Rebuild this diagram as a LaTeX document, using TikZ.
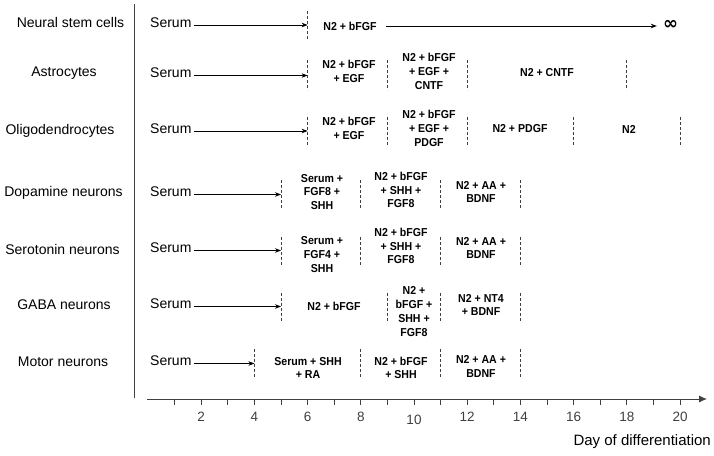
\documentclass[tikz,border=0pt]{standalone}
\usepackage{fontspec}
\setmainfont{Liberation Sans}
\newfontfamily\cf[FakeStretch=0.92]{Liberation Sans}
\newfontfamily\djv{DejaVu Sans}
\usetikzlibrary{arrows.meta}
\definecolor{axgray}{HTML}{404040}
\begin{document}
\begin{tikzpicture}[x=1pt,y=-1pt,
  rowlabel/.style={font=\fontsize{14}{16}\selectfont, inner sep=0},
  serum/.style={font=\fontsize{14}{16}\selectfont, inner sep=0, anchor=west},
  med/.style={font=\cf\bfseries\fontsize{11.5}{13.7}\selectfont, align=center, inner sep=0},
  arr/.style={-{Stealth[length=6pt,width=4.5pt]}, line width=0.8pt},
  sep/.style={axgray, line width=0.7pt, dash pattern=on 3pt off 2pt},
  ticklab/.style={font=\fontsize{13.5}{15}\selectfont, text=axgray, inner sep=0}]
\useasboundingbox (0,0) rectangle (714,455);

% vertical separator
\draw[axgray, line width=0.8pt] (134,4) -- (134,398);

% axis
\coordinate (ax0) at (147,399);
\coordinate (ax1) at (707,399);
\draw[axgray, line width=0.9pt, -{Latex[length=8pt,width=7pt]}] (ax0) -- (ax1);
\foreach \d in {1,...,20} {
  \draw[axgray, line width=0.8pt] ({148+26.6*\d},399) -- ({148+26.6*\d},405);
}
\foreach \d in {2,4,6,8,12,14,16,18,20} {
  \node[ticklab] (t\d) at ({148+26.6*\d},417) {\d};
}
\node[ticklab] (t10) at ({148+26.6*10},420) {10};
\node[inner sep=0, anchor=east, font=\fontsize{15}{17}\selectfont] (daylab) at (711,442) {Day of differentiation};

% ---------- Neural stem cells ----------
\node[rowlabel] (l1) at (70.5,22.5) {Neural stem cells};
\node[serum] (s1) at (150,22.5) {Serum};
\coordinate (d1) at (307.6,25);
\draw[arr] ([xshift=2pt]s1.east |- d1) -- (d1);
\draw[sep] (307.6,11) -- (307.6,40);
\node[med] (n1a) at (350,26) {N2 + bFGF};
\node[inner sep=0, font=\djv\bfseries\fontsize{18}{18}\selectfont] (inf) at (670.5,25) {∞};
\draw[arr] ([xshift=9pt]n1a.east) -- ([xshift=-6pt]inf.west |- n1a.east);

% ---------- Astrocytes ----------
\node[rowlabel] (l2) at (64,73) {Astrocytes};
\node[serum] (s2) at (150,73) {Serum};
\coordinate (d2) at (307.6,75.5);
\draw[arr] ([xshift=2pt]s2.east |- d2) -- (d2);
\foreach \x in {307.6,387.4,467.2,626.8} \draw[sep] (\x,60) -- (\x,90);
\node[med] (n2a) at (349,71.5) {N2 + bFGF\\+ EGF};
\node[med] (n2b) at (429,71.5) {N2 + bFGF\\+ EGF +\\CNTF};
\node[med] (n2c) at (547,73) {N2 + CNTF};

% ---------- Oligodendrocytes ----------
\node[rowlabel] (l3) at (60,131) {Oligodendrocytes};
\node[serum] (s3) at (150,128.5) {Serum};
\coordinate (d3) at (307.6,131);
\draw[arr] ([xshift=2pt]s3.east |- d3) -- (d3);
\foreach \x in {307.6,387.4,467.2,573.6,680} \draw[sep] (\x,117) -- (\x,146);
\node[med] (n3a) at (349,128.5) {N2 + bFGF\\+ EGF};
\node[med] (n3b) at (429,128.5) {N2 + bFGF\\+ EGF +\\PDGF};
\node[med] (n3c) at (520,129) {N2 + PDGF};
\node[med] (n3d) at (629,129) {N2};

% ---------- Dopamine neurons ----------
\node[rowlabel] (l4) at (63.5,193) {Dopamine neurons};
\node[serum] (s4) at (150,192) {Serum};
\coordinate (d4) at (281,194.5);
\draw[arr] ([xshift=2pt]s4.east |- d4) -- (d4);
\foreach \x in {281,360.8,440.6,520.4} \draw[sep] (\x,180) -- (\x,208);
\node[med] (n4a) at (322,192) {Serum +\\FGF8 +\\SHH};
\node[med] (n4b) at (401,190) {N2 + bFGF\\+ SHH +\\FGF8};
\node[med] (n4c) at (481,192) {N2 + AA +\\BDNF};

% ---------- Serotonin neurons ----------
\node[rowlabel] (l5) at (62.5,249) {Serotonin neurons};
\node[serum] (s5) at (150,248) {Serum};
\coordinate (d5) at (281,250.5);
\draw[arr] ([xshift=2pt]s5.east |- d5) -- (d5);
\foreach \x in {281,360.8,440.6,520.4} \draw[sep] (\x,237) -- (\x,266);
\node[med] (n5a) at (322,254.5) {Serum +\\FGF4 +\\SHH};
\node[med] (n5b) at (401,246) {N2 + bFGF\\+ SHH +\\FGF8};
\node[med] (n5c) at (481,248) {N2 + AA +\\BDNF};

% ---------- GABA neurons ----------
\node[rowlabel] (l6) at (64,305) {GABA neurons};
\node[serum] (s6) at (150,304) {Serum};
\coordinate (d6) at (281,306.5);
\draw[arr] ([xshift=2pt]s6.east |- d6) -- (d6);
\foreach \x in {281,387.4,440.6,520.4} \draw[sep] (\x,293) -- (\x,322);
\node[med] (n6a) at (334,306) {N2 + bFGF};
\node[med] (n6b) at (414,311.5) {N2 +\\bFGF +\\SHH +\\FGF8};
\node[med] (n6c) at (481,305) {N2 + NT4\\+ BDNF};

% ---------- Motor neurons ----------
\node[rowlabel] (l7) at (63,362) {Motor neurons};
\node[serum] (s7) at (150,361) {Serum};
\coordinate (d7) at (254.4,363.5);
\draw[arr] ([xshift=2pt]s7.east |- d7) -- (d7);
\foreach \x in {254.4,360.8,440.6,520.4} \draw[sep] (\x,349) -- (\x,378);
\node[med] (n7a) at (308,368) {Serum + SHH\\+ RA};
\node[med] (n7b) at (401,368) {N2 + bFGF\\+ SHH};
\node[med] (n7c) at (481,366.5) {N2 + AA +\\BDNF};
\end{tikzpicture}
\end{document}
